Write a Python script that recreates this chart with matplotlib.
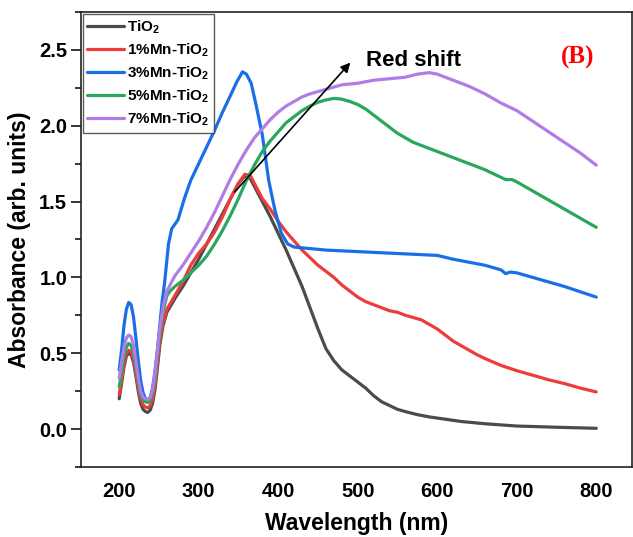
import matplotlib
matplotlib.use("Agg")
import matplotlib.pyplot as plt
from matplotlib.ticker import MultipleLocator

plt.rcParams['font.family'] = ['Liberation Sans', 'DejaVu Sans']
plt.rcParams['font.weight'] = 'bold'
plt.rcParams['mathtext.fontset'] = 'custom'
plt.rcParams['mathtext.rm'] = 'Liberation Sans:bold'
plt.rcParams['mathtext.bf'] = 'Liberation Sans:bold'

# ---------------- data ----------------
wl_tio2 = [200, 203, 206, 209, 212, 215, 218, 221, 224, 227, 230, 233, 236, 239, 242, 245, 248,
           251, 255, 260, 270, 280, 290, 300, 310, 320, 330, 340, 350, 358, 365, 372, 380, 390,
           400, 410, 420, 430, 440, 450, 460, 470, 480, 490, 500, 510, 520, 530, 540, 550, 560,
           575, 590, 610, 630, 660, 700, 750, 800]
a_tio2 = [0.20, 0.30, 0.41, 0.48, 0.50, 0.49, 0.44, 0.35, 0.25, 0.17, 0.13, 0.115, 0.11, 0.125,
          0.17, 0.26, 0.40, 0.55, 0.68, 0.77, 0.86, 0.94, 1.03, 1.12, 1.22, 1.32, 1.42, 1.52,
          1.62, 1.67, 1.65, 1.58, 1.50, 1.40, 1.29, 1.18, 1.06, 0.94, 0.80, 0.66, 0.53, 0.45,
          0.39, 0.35, 0.31, 0.27, 0.22, 0.18, 0.155, 0.13, 0.115, 0.095, 0.08, 0.065, 0.05,
          0.035, 0.02, 0.012, 0.005]

wl_mn1 = [200, 203, 206, 209, 212, 215, 218, 221, 224, 227, 230, 233, 236, 239, 242, 245, 248,
          251, 255, 260, 270, 280, 290, 300, 310, 320, 330, 340, 350, 358, 365, 372, 380, 390,
          400, 410, 420, 430, 440, 450, 460, 470, 480, 490, 500, 510, 520, 530, 540, 550, 560,
          570, 580, 590, 600, 610, 620, 630, 640, 650, 660, 680, 700, 720, 740, 760, 780, 800]
a_mn1 = [0.23, 0.32, 0.43, 0.50, 0.52, 0.51, 0.46, 0.37, 0.28, 0.20, 0.16, 0.145, 0.14, 0.155,
         0.20, 0.29, 0.43, 0.58, 0.70, 0.79, 0.88, 0.97, 1.08, 1.16, 1.22, 1.30, 1.40, 1.52,
         1.62, 1.68, 1.67, 1.60, 1.52, 1.45, 1.37, 1.30, 1.24, 1.18, 1.13, 1.08, 1.04, 1.00,
         0.95, 0.91, 0.87, 0.84, 0.82, 0.80, 0.78, 0.77, 0.75, 0.735, 0.72, 0.69, 0.66, 0.62,
         0.58, 0.55, 0.52, 0.49, 0.465, 0.42, 0.385, 0.355, 0.325, 0.30, 0.27, 0.245]

wl_mn3 = [200, 203, 206, 209, 212, 215, 218, 221, 224, 227, 230, 233, 236, 239, 242, 245, 248,
          251, 254, 257, 262, 266, 274, 282, 290, 300, 310, 320, 330, 340, 348, 355, 360, 366,
          372, 380, 388, 396, 404, 412, 420, 440, 460, 480, 500, 520, 540, 560, 580, 600, 620,
          640, 660, 680, 686, 692, 700, 720, 740, 760, 780, 800]
a_mn3 = [0.39, 0.52, 0.68, 0.79, 0.835, 0.82, 0.74, 0.60, 0.45, 0.32, 0.24, 0.20, 0.19, 0.21,
         0.27, 0.38, 0.52, 0.68, 0.84, 0.96, 1.22, 1.32, 1.38, 1.52, 1.64, 1.75, 1.86, 1.97,
         2.09, 2.20, 2.29, 2.355, 2.34, 2.28, 2.14, 1.94, 1.64, 1.44, 1.29, 1.22, 1.20, 1.19,
         1.18, 1.175, 1.17, 1.165, 1.16, 1.155, 1.15, 1.145, 1.12, 1.10, 1.08, 1.05, 1.025,
         1.035, 1.03, 1.00, 0.97, 0.94, 0.905, 0.87]

wl_mn5 = [200, 203, 206, 209, 212, 215, 218, 221, 224, 227, 230, 233, 236, 239, 242, 245, 248,
          251, 255, 260, 264, 270, 280, 290, 300, 310, 320, 330, 340, 350, 360, 370, 380, 390,
          400, 410, 420, 430, 440, 450, 460, 470, 480, 490, 500, 510, 520, 530, 540, 550, 560,
          570, 580, 600, 620, 640, 660, 680, 686, 694, 700, 720, 740, 760, 780, 800]
a_mn5 = [0.28, 0.37, 0.48, 0.54, 0.565, 0.55, 0.50, 0.41, 0.31, 0.23, 0.19, 0.18, 0.175, 0.19,
         0.24, 0.34, 0.48, 0.63, 0.77, 0.88, 0.91, 0.94, 0.98, 1.03, 1.08, 1.14, 1.22, 1.31,
         1.41, 1.52, 1.64, 1.74, 1.83, 1.90, 1.96, 2.02, 2.06, 2.10, 2.13, 2.155, 2.17, 2.18,
         2.175, 2.16, 2.14, 2.11, 2.07, 2.03, 1.99, 1.95, 1.92, 1.89, 1.87, 1.83, 1.79, 1.75,
         1.71, 1.66, 1.645, 1.645, 1.63, 1.57, 1.51, 1.45, 1.39, 1.33]

wl_mn7 = [200, 203, 206, 209, 212, 215, 218, 221, 224, 227, 230, 233, 236, 239, 242, 245, 248,
          251, 255, 260, 264, 270, 280, 290, 300, 310, 320, 330, 340, 350, 360, 370, 380, 390,
          400, 410, 420, 430, 440, 460, 480, 500, 520, 540, 560, 575, 590, 600, 620, 640, 660,
          680, 700, 720, 740, 760, 780, 800]
a_mn7 = [0.335, 0.44, 0.54, 0.60, 0.62, 0.61, 0.55, 0.45, 0.34, 0.25, 0.21, 0.20, 0.195, 0.21,
         0.26, 0.37, 0.51, 0.66, 0.80, 0.91, 0.95, 1.01, 1.08, 1.16, 1.24, 1.33, 1.43, 1.54,
         1.65, 1.75, 1.84, 1.92, 1.98, 2.04, 2.09, 2.13, 2.16, 2.19, 2.21, 2.24, 2.27, 2.28,
         2.30, 2.31, 2.32, 2.34, 2.35, 2.34, 2.30, 2.26, 2.21, 2.15, 2.10, 2.03, 1.96, 1.89,
         1.82, 1.74]

labels = [r'TiO$_\mathbf{2}$', r'1%Mn-TiO$_\mathbf{2}$', r'3%Mn-TiO$_\mathbf{2}$',
          r'5%Mn-TiO$_\mathbf{2}$', r'7%Mn-TiO$_\mathbf{2}$']
colors = ['#4b4b4b', '#ee3b3b', '#1b6fe6', '#2aa75d', '#b07de6']

xticks = [200, 300, 400, 500, 600, 700, 800]
yticks = [0.0, 0.5, 1.0, 1.5, 2.0, 2.5]

# ---------------- figure ----------------
fig = plt.figure(figsize=(6.33, 5.37), dpi=100)
ax = fig.add_axes([0.128, 0.1304, 0.8705, 0.8473])

series = [(wl_tio2, a_tio2), (wl_mn1, a_mn1), (wl_mn3, a_mn3), (wl_mn5, a_mn5), (wl_mn7, a_mn7)]
for (x, y), c, lab in zip(series, colors, labels):
    ax.plot(x, y, color=c, lw=2.3, label=lab, solid_joinstyle='round', solid_capstyle='round')

ax.set_xlim(152, 845)
ax.set_ylim(-0.25, 2.75)
ax.set_xticks(xticks)
ax.set_yticks(yticks)
ax.set_xticklabels([str(v) for v in xticks])
ax.set_yticklabels([f'{v:.1f}' for v in yticks])
ax.yaxis.set_minor_locator(MultipleLocator(0.25))
ax.tick_params(axis='x', length=0, pad=11, labelsize=14.5)
ax.tick_params(axis='y', which='major', length=7, width=1.1, direction='out', pad=3, labelsize=14.5)
ax.tick_params(axis='y', which='minor', length=4, width=1.1, direction='out')
for s in ax.spines.values():
    s.set_linewidth(1.2)
    s.set_color('#222222')

ax.set_xlabel('Wavelength (nm)', fontsize=16.5, fontweight='bold', labelpad=8)
ax.set_ylabel('Absorbance (arb. units)', fontsize=16.5, fontweight='bold', labelpad=6)

leg = ax.legend(loc='upper left', bbox_to_anchor=(0.0, 1.0), fontsize=11, frameon=True,
                fancybox=False, edgecolor='#333333', handlelength=2.4, handletextpad=0.2,
                labelspacing=0.35, borderpad=0.3, borderaxespad=0.1)
leg.get_frame().set_linewidth(1.0)
for t in leg.get_texts():
    t.set_fontweight('bold')

ax.annotate('', xy=(493, 2.43), xytext=(343, 1.55),
            arrowprops=dict(arrowstyle='-|>', color='black', lw=1.2, mutation_scale=14))
ax.text(511, 2.43, 'Red shift', fontsize=16, fontweight='bold', va='center', ha='left')
ax.text(776, 2.45, '(B)', fontsize=18, fontweight='bold', color='#ff0000', va='center',
        ha='center', family=['Liberation Serif', 'DejaVu Serif'])

fig.savefig('out.png', dpi=100)
